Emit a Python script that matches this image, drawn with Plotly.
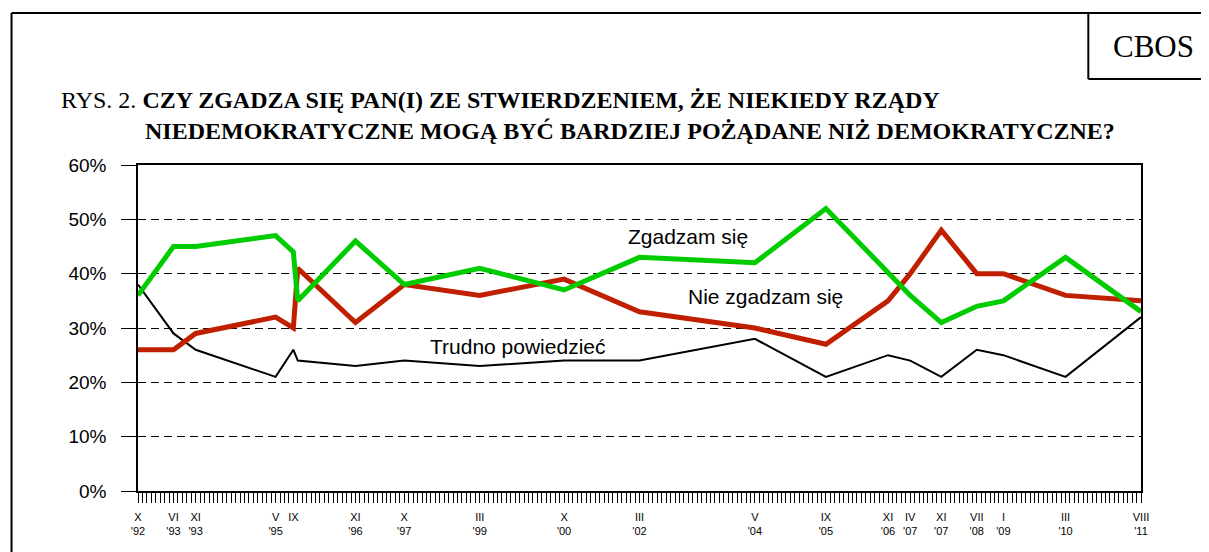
import plotly.graph_objects as go

# ---- data ----
survey_dates = [(1992, 10), (1993, 6), (1993, 11), (1995, 5), (1995, 9), (1995, 10),
                (1996, 11), (1997, 10), (1999, 3), (2000, 10), (2002, 3), (2004, 5),
                (2005, 9), (2006, 11), (2007, 4), (2007, 11), (2008, 7), (2009, 1),
                (2010, 3), (2011, 8)]
zgadzam = [36, 45, 45, 47, 44, 35, 46, 38, 41, 37, 43, 42, 52, 40, 36, 31, 34, 35, 43, 33]
nie_zgadzam = [26, 26, 29, 32, 30, 41, 31, 38, 36, 39, 33, 30, 27, 35, 40, 48, 40, 40, 36, 35]
trudno = [38, 29, 26, 21, 26, 24, 23, 24, 23, 24, 24, 28, 21, 25, 24, 21, 26, 25, 21, 32]

tick_dates = [(1992, 10), (1993, 6), (1993, 11), (1995, 5), (1995, 9), (1996, 11), (1997, 10),
              (1999, 3), (2000, 10), (2002, 3), (2004, 5), (2005, 9), (2006, 11), (2007, 4),
              (2007, 11), (2008, 7), (2009, 1), (2010, 3), (2011, 8)]
tick_months = ["X", "VI", "XI", "V", "IX", "XI", "X", "III", "X", "III", "V", "IX", "XI", "IV",
               "XI", "VII", "I", "III", "VIII"]
tick_years = ["'92", "'93", "'93", "'95", " ", "'96", "'97", "'99", "'00", "'02", "'04", "'05",
              "'06", "'07", "'07", "'08", "'09", "'10", "'11"]
y_ticks = [0, 10, 20, 30, 40, 50, 60]


def month_index(d):
    y, m = d
    return (y - 1992) * 12 + m - 10


x = [month_index(d) for d in survey_dates]
tickvals = [month_index(d) for d in tick_dates]
ticktext = [f"{m}<br>{y}" for m, y in zip(tick_months, tick_years)]
x_end = month_index((2011, 8))

W, H = 1209, 552
OFF = 8  # page body margin
L, R, T, B = 137.5, 1140.7, 165, 491


def px(xp):
    return (xp - L) / (R - L)


def py(yp):
    return (B - yp) / (B - T)


def dx(xp):
    return (xp - L) / ((R - L) / x_end)


def dy(yp):
    return (B - yp) / ((B - T) / 60)


SANS = "Arial, Liberation Sans, sans-serif"
SERIF = "Times New Roman, Liberation Serif, serif"

fig = go.Figure()
fig.add_trace(go.Scatter(x=x, y=trudno, mode="lines", line=dict(color="black", width=2),
                         hoverinfo="skip", showlegend=False))
fig.add_trace(go.Scatter(x=x, y=nie_zgadzam, mode="lines", line=dict(color="#C02000", width=5),
                         hoverinfo="skip", showlegend=False))
fig.add_trace(go.Scatter(x=x, y=zgadzam, mode="lines", line=dict(color="#00CC00", width=5),
                         hoverinfo="skip", showlegend=False))

fig.update_layout(
    width=W - OFF, height=H - OFF,
    margin=dict(l=L - OFF, r=W - R, t=T - OFF, b=H - B, pad=0),
    plot_bgcolor="white", paper_bgcolor="white",
    xaxis=dict(range=[0, x_end], tickmode="array", tickvals=tickvals,
               ticktext=ticktext, ticks="outside", ticklen=10, tickcolor="black",
               tickwidth=1, showgrid=False, zeroline=False,
               showline=True, linecolor="black", linewidth=1.5, mirror=True,
               tickfont=dict(family=SANS, size=11, color="black"),
               ticklabelstandoff=5,
               minor=dict(ticks="outside", tickmode="linear", tick0=0, dtick=1, ticklen=10,
                          tickcolor="black", tickwidth=1, showgrid=False)),
    yaxis=dict(range=[0, 60], tickmode="array", tickvals=y_ticks,
               ticktext=[f"{v}%" for v in y_ticks], ticks="outside", ticklen=15,
               tickcolor="black", tickwidth=1, showgrid=True, gridcolor="black",
               gridwidth=1, griddash="8px,5px", zeroline=False,
               showline=True, linecolor="black", linewidth=1.5, mirror=True,
               tickfont=dict(family=SANS, size=19, color="black"),
               ticklabelstandoff=11),
)

# series labels
lab_font = dict(family=SANS, size=21, color="black")
fig.add_annotation(x=dx(626), y=dy(236), text="Zgadzam się", showarrow=False,
                   xanchor="left", yanchor="middle", font=lab_font)
fig.add_annotation(x=dx(686), y=dy(296), text="Nie zgadzam się", showarrow=False,
                   xanchor="left", yanchor="middle", font=lab_font)
fig.add_annotation(x=dx(428), y=dy(346), text="Trudno powiedzieć", showarrow=False,
                   xanchor="left", yanchor="middle", font=lab_font)

# title
title_font = dict(family=SERIF, size=24, color="black")
fig.add_annotation(xref="paper", yref="paper", x=px(58), y=py(100), xanchor="left", yanchor="middle",
                   text="RYS. 2. <b>CZY ZGADZA SIĘ PAN(I) ZE STWIERDZENIEM, ŻE NIEKIEDY RZĄDY</b>",
                   showarrow=False, font=title_font)
fig.add_annotation(xref="paper", yref="paper", x=px(143), y=py(131), xanchor="left", yanchor="middle",
                   text="<b>NIEDEMOKRATYCZNE MOGĄ BYĆ BARDZIEJ POŻĄDANE NIŻ DEMOKRATYCZNE?</b>",
                   showarrow=False, font=title_font)
fig.add_annotation(xref="paper", yref="paper", x=px(1153), y=py(46), xanchor="center", yanchor="middle",
                   text="CBOS", showarrow=False, font=dict(family=SERIF, size=31, color="black"))

# frame
frame = dict(color="black", width=2)
fig.add_shape(type="line", xref="paper", yref="paper", x0=px(11), x1=px(11), y0=py(13), y1=py(560), line=frame)
fig.add_shape(type="line", xref="paper", yref="paper", x0=px(11), x1=px(1215), y0=py(13), y1=py(13), line=frame)
fig.add_shape(type="line", xref="paper", yref="paper", x0=px(1088), x1=px(1088), y0=py(13), y1=py(79), line=frame)
fig.add_shape(type="line", xref="paper", yref="paper", x0=px(1088), x1=px(1215), y0=py(79), y1=py(79), line=frame)

fig.write_html("out.html")
